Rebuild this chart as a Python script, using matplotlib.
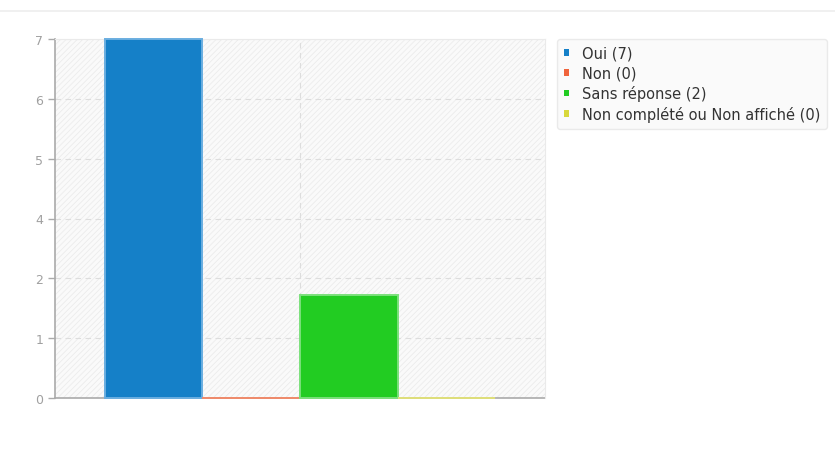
import numpy as np
import matplotlib
matplotlib.use("Agg")
import matplotlib.pyplot as plt
from matplotlib.patches import Rectangle, Patch
from matplotlib.lines import Line2D

# Data
categories = ["Oui", "Non", "Sans réponse", "Non complété ou Non affiché"]
counts = [7, 0, 2, 0]
colors = ["#1580c8", "#f0643c", "#22cc22", "#d8d83c"]
edge_colors = ["#6aaee0", "#f08a6a", "#7be07b", "#e0e07a"]

fig = plt.figure(figsize=(8.35, 4.52), dpi=100)
ax = fig.add_axes([55 / 835, 1 - 399 / 452, 490 / 835, 359 / 452])

# hatched light background
plt.rcParams["hatch.linewidth"] = 0.6
ax.set_facecolor("#fafafa")
ax.add_patch(Rectangle((0, 0), 1, 1, transform=ax.transAxes, facecolor="none",
                       edgecolor="#ececec", hatch="//////", lw=0, zorder=0))

x = np.arange(len(categories))
ax.bar(x, counts, width=1.0, color=colors, edgecolor=edge_colors, linewidth=1.4,
       zorder=3, clip_on=False)

ax.set_xlim(-1.01, 4.01)
ax.set_ylim(0, 7)
yt = np.linspace(0, 7, 7)
ax.set_yticks(yt)
ax.set_yticklabels([str(int(np.floor(v + 0.5))) for v in yt])
ax.set_xticks([1.5])
ax.set_xticklabels([])
ax.tick_params(axis="x", length=0)
ax.tick_params(axis="y", colors="#aaaaaa", labelcolor="#a0a0a0", labelsize=9, length=5, width=1)
ax.grid(True, color="#dddddd", linestyle=(0, (5, 4)), linewidth=0.8, zorder=1)

for s in ["left", "bottom"]:
    ax.spines[s].set_color("#aaaaaa")
    ax.spines[s].set_linewidth(1.2)
    ax.spines[s].set_zorder(2)
for s in ["top", "right"]:
    ax.spines[s].set_color("#eaeaea")
    ax.spines[s].set_linewidth(0.8)

handles = [Patch(facecolor=c, edgecolor="none") for c in colors]
labels = [f"{c} ({n})" for c, n in zip(categories, counts)]
leg = fig.legend(handles, labels, loc="upper left", bbox_to_anchor=(557 / 835, 1 - 40 / 452),
                 fontsize=10.5, frameon=True, fancybox=True, handlelength=0.35, handleheight=0.35,
                 handletextpad=0.9, labelspacing=0.33, borderpad=0.45, borderaxespad=0)
leg.get_frame().set_facecolor("#f9f9f9")
leg.get_frame().set_edgecolor("#e6e6e6")
for t in leg.get_texts():
    t.set_color("#333333")

# thin rule at top of image
fig.add_artist(Line2D([0, 1], [1 - 12 / 452, 1 - 12 / 452], color="#eeeeee", lw=1.2,
                      transform=fig.transFigure))

fig.savefig("out.png", dpi=100)
